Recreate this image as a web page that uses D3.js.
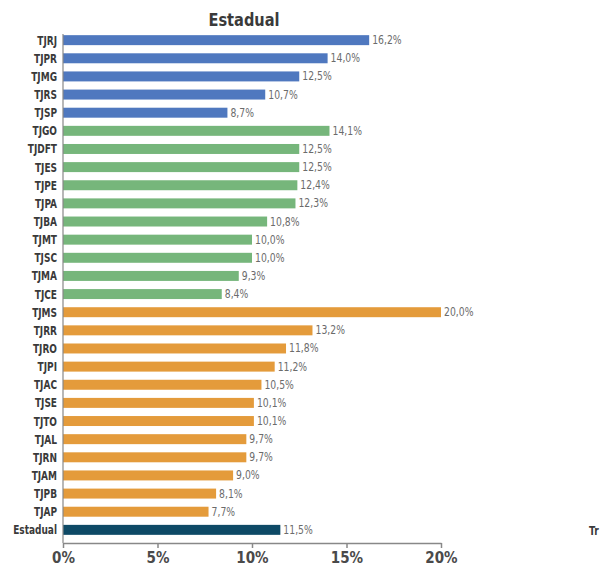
<!DOCTYPE html>
<html>
<head>
<meta charset="utf-8">
<script src="https://cdn.jsdelivr.net/npm/d3@7"></script>
<style>
html,body{margin:0;padding:0;background:#fff;}
svg{display:block;font-family:'Liberation Sans Narrow','DejaVu Sans Condensed',sans-serif;font-stretch:condensed;}
</style>
</head>
<body>
<svg id="chart" width="603" height="572"></svg>
<script>
const categories = ["TJRJ","TJPR","TJMG","TJRS","TJSP","TJGO","TJDFT","TJES","TJPE","TJPA","TJBA","TJMT","TJSC","TJMA","TJCE","TJMS","TJRR","TJRO","TJPI","TJAC","TJSE","TJTO","TJAL","TJRN","TJAM","TJPB","TJAP","Estadual"];
const values = [16.2,14.0,12.5,10.7,8.7,14.1,12.5,12.5,12.4,12.3,10.8,10.0,10.0,9.3,8.4,20.0,13.2,11.8,11.2,10.5,10.1,10.1,9.7,9.7,9.0,8.1,7.7,11.5];
const groups = ["grande","grande","grande","grande","grande","medio","medio","medio","medio","medio","medio","medio","medio","medio","medio","pequeno","pequeno","pequeno","pequeno","pequeno","pequeno","pequeno","pequeno","pequeno","pequeno","pequeno","pequeno","total"];
const xTicks = [0,5,10,15,20];
const groupColors = {grande:"#4f78bf", medio:"#76b67b", pequeno:"#e49b3b", total:"#0e4a66"};

const data = categories.map((c,i)=>({cat:c, v:values[i], g:groups[i]}));
const svg = d3.select("#chart");
const x = d3.scaleLinear().domain([0,20]).range([63,441]);
const y = d3.scaleBand().domain(categories).range([27,543]).padding(0.45);

svg.append("text").attr("transform","translate(244,26) scale(0.9,1)").attr("text-anchor","middle")
  .attr("font-size",18).attr("font-weight","bold").attr("fill","#3a3a3a").text("Estadual");

svg.selectAll("rect.bar").data(data).enter().append("rect")
  .attr("class","bar")
  .attr("x",x(0)).attr("y",d=>y(d.cat))
  .attr("width",d=>x(d.v)-x(0)).attr("height",y.bandwidth())
  .attr("fill",d=>groupColors[d.g]);

svg.selectAll("text.val").data(data).enter().append("text")
  .attr("class","val")
  .attr("transform",d=>`translate(${x(d.v)+3},${y(d.cat)+y.bandwidth()/2+4}) scale(0.86,1)`)
  .attr("font-size",12).attr("fill","#6b6b6b")
  .text(d=>d3.format(".1f")(d.v).replace(".",",")+"%");

svg.selectAll("text.cat").data(data).enter().append("text")
  .attr("class","cat")
  .attr("transform",d=>`translate(57,${y(d.cat)+y.bandwidth()/2+4.5}) scale(0.8,1)`)
  .attr("text-anchor","end").attr("font-size",12.5).attr("font-weight","bold").attr("fill","#3a3a3a")
  .text(d=>d.cat);

// axes
svg.append("line").attr("x1",x(0)).attr("x2",x(0)).attr("y1",34).attr("y2",543)
  .attr("stroke","#888").attr("stroke-width",1.2);
const xAxis = svg.append("g").attr("transform","translate(0,543)")
  .call(d3.axisBottom(x).tickValues(xTicks).tickSize(5).tickSizeOuter(0).tickFormat(d=>d+"%"));
xAxis.select(".domain").attr("stroke","#888").attr("stroke-width",1.5);
xAxis.selectAll(".tick line").attr("stroke","#888").attr("stroke-width",1.5);
xAxis.selectAll(".tick text").attr("font-family","'Liberation Sans Narrow','DejaVu Sans Condensed',sans-serif")
  .attr("font-size",15).attr("font-weight","bold").attr("fill","#4a4a4a").attr("dy","0.95em").attr("y",6)
  .attr("transform","scale(0.88,1)")
  .attr("x",0);
// compensate scale for tick text position
xAxis.selectAll(".tick text").attr("transform",null).attr("textLength",function(){return null;});

svg.append("text").attr("transform","translate(589,535) scale(0.85,1)").attr("font-size",12).attr("font-weight","bold")
  .attr("fill","#3a3a3a").text("Tr");
</script>
</body>
</html>
